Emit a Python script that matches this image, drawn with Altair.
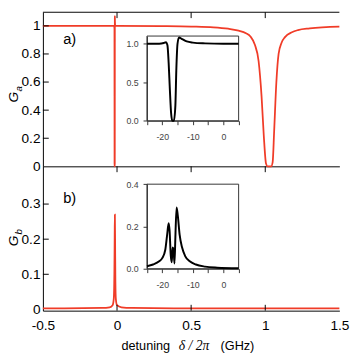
import altair as alt
import pandas as pd

# ---------------- data ----------------
# panel a: G_a vs detuning (GHz)
a_x = [-0.5, -0.1, -0.02, -0.0172, -0.0166, -0.0160, -0.0153, -0.0147, -0.0140, -0.012, 0.0,
       0.3, 0.5, 0.65, 0.75, 0.82, 0.87, 0.9, 0.93, 0.955, 0.975, 0.99, 1.005, 1.015, 1.04,
       1.05, 1.06, 1.075, 1.09, 1.11, 1.133, 1.18, 1.221, 1.3, 1.5]
a_y = [1.0, 1.0, 1.0, 0.98, 0.02, 0.0, 0.02, 1.07, 1.03, 1.0, 1.0,
       0.998, 0.995, 0.99, 0.98, 0.966, 0.948, 0.925, 0.865, 0.75, 0.5, 0.22, 0.02, 0.0, 0.0,
       0.03, 0.25, 0.6, 0.8, 0.88, 0.92, 0.955, 0.97, 0.982, 0.995]
# panel b: G_b vs detuning (GHz)
b_x = [-0.5, -0.1, -0.05, -0.03, -0.022, -0.018, -0.016, -0.0145, -0.013, -0.011, -0.008,
       0.0, 0.03, 0.1, 0.5, 1.0, 1.5]
b_y = [0.003, 0.004, 0.006, 0.012, 0.03, 0.1, 0.2, 0.27, 0.2, 0.08, 0.03,
       0.012, 0.006, 0.004, 0.003, 0.003, 0.003]
# inset a (MHz)
ia_x = [-25, -21, -19.5, -18.8, -18.3, -17.9, -17.5, -17.1, -16.7, -16.2, -15.7, -15.4,
        -15.0, -14.5, -13.5, -12, -10, -6, 0, 5]
ia_y = [1.0, 1.0, 1.01, 1.02, 0.98, 0.75, 0.4, 0.1, 0.0, 0.0, 0.2, 0.65,
        1.0, 1.08, 1.06, 1.03, 1.015, 1.005, 1.0, 1.0]
# inset b (MHz)
ib_x = [-25, -23, -21, -20, -19, -18.4, -17.9, -17.6, -17.2, -16.9, -16.6, -16.3, -16.0,
        -15.7, -15.3, -14.9, -14.3, -13.5, -12.5, -11, -9, -6, -2, 5]
ib_y = [0.012, 0.02, 0.035, 0.05, 0.09, 0.16, 0.215, 0.18, 0.06, 0.03, 0.1, 0.09, 0.025,
        0.15, 0.29, 0.25, 0.16, 0.1, 0.06, 0.035, 0.02, 0.01, 0.005, 0.002]

# tick values
x_ticks_main = [-0.5, 0, 0.5, 1, 1.5]
x_inner_ticks = [0, 0.5, 1]
ya_ticks = [0, 0.2, 0.4, 0.6, 0.8, 1]
ya_inner = [0.2, 0.4, 0.6, 0.8, 1]
yb_ticks = [0, 0.1, 0.2, 0.3]
yb_inner = [0.1, 0.2, 0.3]
inset_x_ticks = [-25, -20, -15, -10, -5, 0, 5]
ia_y_ticks = [0, 0.5, 1.0]
ib_y_ticks = [0, 0.2, 0.4]

# ---------------- layout ----------------
W, H, HA = 304, 306, 158
X_DOM = [-0.5, 1.5]
YA_DOM = [0, 1.097]
YB_DOM = [-0.0036, 0.4075]
INS_X = [106.7, 200.7]
IA_Y = [111.3, 24.4]
IB_Y = [263.0, 176.3]
RED = "#f03c28"
FONT = "Liberation Sans"
NEG = "datum.value < 0 ? '-' + format(-datum.value, '~g') : format(datum.value, '~g')"


def xs_main():
    return alt.Scale(domain=X_DOM, range=[0, W], nice=False, zero=False)


def ys_a():
    return alt.Scale(domain=YA_DOM, range=[HA, 0], nice=False, zero=False)


def ys_b():
    return alt.Scale(domain=YB_DOM, range=[H, HA], nice=False, zero=False)


def xs_in():
    return alt.Scale(domain=[-25, 5], range=INS_X, nice=False, zero=False)


def ys_ia():
    return alt.Scale(domain=[0, 1.1], range=IA_Y, nice=False, zero=False)


def ys_ib():
    return alt.Scale(domain=[0, 0.4], range=IB_Y, nice=False, zero=False)


df_a = pd.DataFrame({"x": a_x, "y": a_y})
df_b = pd.DataFrame({"x": b_x, "y": b_y})
df_ia = pd.DataFrame({"x": ia_x, "y": ia_y})
df_ib = pd.DataFrame({"x": ib_x, "y": ib_y})
one = pd.DataFrame({"t": [""]})


def text(t, x, y, size=14, font=FONT, **kw):
    return alt.Chart(pd.DataFrame({"t": [t]})).mark_text(
        fontSize=size, font=font, color="black", **kw
    ).encode(text="t:N", x=alt.value(x), y=alt.value(y))


def xrules(vals, y0, y1):
    return alt.Chart(pd.DataFrame({"v": vals})).mark_rule(color="black", strokeWidth=1).encode(
        x=alt.X("v:Q", scale=xs_main(), axis=None), y=alt.value(y0), y2=alt.value(y1))


def yrules(vals, scale):
    return alt.Chart(pd.DataFrame({"v": vals})).mark_rule(color="black", strokeWidth=1).encode(
        y=alt.Y("v:Q", scale=scale, axis=None), x=alt.value(0), x2=alt.value(6))


def main_axis(**kw):
    return alt.Axis(labelFont=FONT, labelFontSize=14, labelColor="black", domainColor="black",
                    domainWidth=1, ticks=False, title=None, grid=False, labelFlush=False,
                    labelOverlap=False, **kw)


def inset_axis(**kw):
    return alt.Axis(labelFont=FONT, labelFontSize=9, labelColor="#444", domainColor="#333",
                    tickColor="#333", tickSize=4, title=None, grid=False, labelFlush=False,
                    labelOverlap=False, **kw)


# ---- panel a main ----
line_a = alt.Chart(df_a).mark_line(color=RED, strokeWidth=1.8, interpolate="monotone").encode(
    x=alt.X("x:Q", scale=xs_main(),
            axis=main_axis(orient="bottom", offset=-(H - HA), labels=False)),
    y=alt.Y("y:Q", scale=ys_a(),
            axis=main_axis(orient="left", values=ya_ticks, format="~g", labelPadding=3)),
)
top_rule = alt.Chart(one).mark_rule(color="black", strokeWidth=1).encode(
    x=alt.value(0), x2=alt.value(W), y=alt.value(0))

# ---- panel b main ----
line_b = alt.Chart(df_b).mark_line(color=RED, strokeWidth=1.8, interpolate="monotone").encode(
    x=alt.X("x:Q", scale=xs_main(),
            axis=main_axis(orient="bottom", values=x_ticks_main, labelExpr=NEG, labelPadding=8)),
    y=alt.Y("y:Q", scale=ys_b(),
            axis=main_axis(orient="left", values=yb_ticks, format="~g", labelPadding=3)),
)


def inset_frame(ys, y1):
    return alt.Chart(pd.DataFrame({"x0": [-25], "x1": [5], "y0": [0], "y1": [y1]})
                     ).mark_rect(fillOpacity=0, stroke="#333", strokeWidth=1).encode(
        x=alt.X("x0:Q", scale=xs_in(), axis=None), x2="x1:Q",
        y=alt.Y("y0:Q", scale=ys, axis=None), y2="y1:Q")


def inset_line(df, ys, yvals, ybottom):
    return alt.Chart(df).mark_line(color="black", strokeWidth=2, interpolate="monotone").encode(
        x=alt.X("x:Q", scale=xs_in(),
                axis=inset_axis(orient="bottom", offset=-(H - ybottom), values=inset_x_ticks,
                                labelExpr="datum.value % 10 == 0 ? (" + NEG + ") : ''",
                                labelPadding=8)),
        y=alt.Y("y:Q", scale=ys,
                axis=inset_axis(orient="left", offset=-INS_X[0], values=yvals, format=".1f",
                                labelPadding=5)),
    )


layers = [
    line_a, top_rule, xrules(x_inner_ticks, 0, 6), yrules(ya_inner, ys_a()),
    inset_frame(ys_ia(), 1.1), inset_line(df_ia, ys_ia(), ia_y_ticks, IA_Y[0]),
    line_b, xrules(x_inner_ticks, HA, HA + 6), xrules(x_inner_ticks, H - 6, H),
    yrules(yb_inner, ys_b()),
    inset_frame(ys_ib(), 0.4), inset_line(df_ib, ys_ib(), ib_y_ticks, IB_Y[0]),
    text("a)", 27.5, 28, size=15),
    text("b)", 27.5, 190.5, size=15),
    text("G", -30, 87, size=14, angle=270, fontStyle="italic", baseline="middle"),
    text("a", -24.5, 78.5, size=10, angle=270, fontStyle="italic", baseline="middle"),
    text("G", -30, 234.5, size=14, angle=270, fontStyle="italic", baseline="middle"),
    text("b", -24.8, 225, size=10, angle=270, fontStyle="italic", baseline="middle"),
    text("detuning", 105.5, 342, size=13, baseline="middle"),
    text("\u03b4 / 2\u03c0", 155, 342, size=14, font="Liberation Serif", fontStyle="italic",
         baseline="middle"),
    text("(GHz)", 199.5, 342, size=13, baseline="middle"),
]

chart = alt.layer(*layers).resolve_scale(
    x="independent", y="independent"
).resolve_axis(
    x="independent", y="independent"
).properties(
    width=W, height=H, padding={"left": 7, "top": 7, "right": 5, "bottom": 2}
).configure_view(stroke=None).configure_axis(grid=False, labelFlush=False)

chart.save("out.html", embed_options={"renderer": "svg", "actions": False})
